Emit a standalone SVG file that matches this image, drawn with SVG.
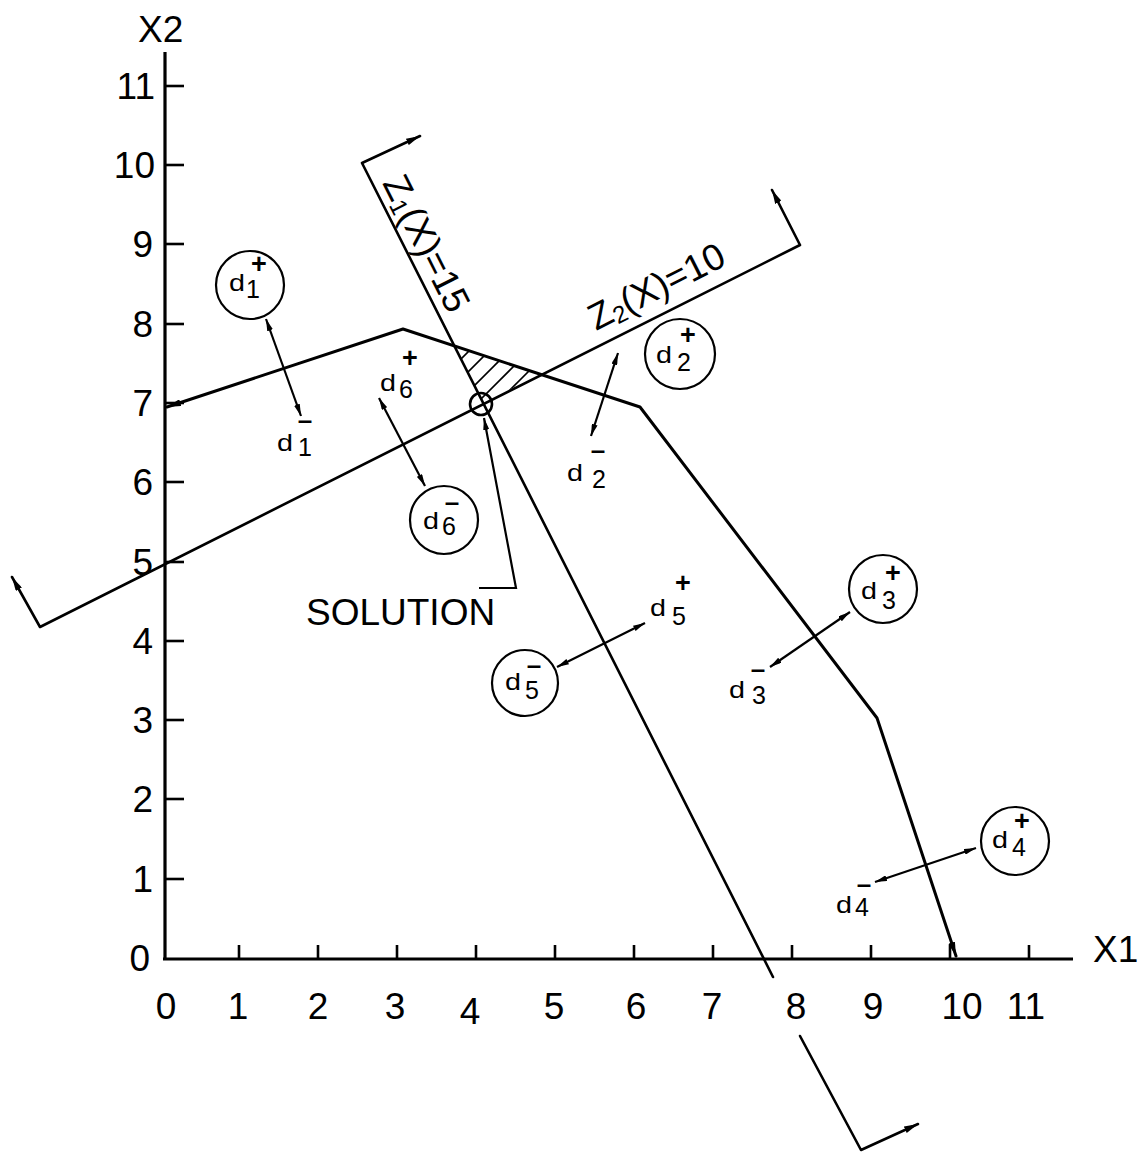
<svg xmlns="http://www.w3.org/2000/svg" width="1142" height="1155" viewBox="0 0 1142 1155">
<style>
.ln{fill:none;stroke:#000;stroke-width:2.6;stroke-linejoin:round;stroke-linecap:round}
.ax{fill:none;stroke:#000;stroke-width:3.2}
.tk{stroke:#000;stroke-width:2.6}
.ar{fill:none;stroke:#000;stroke-width:2.2}
.ht{stroke:#000;stroke-width:1.6}
.cir{fill:#fff;stroke:#000;stroke-width:2.2}
.num{font-family:"Liberation Sans",Arial,sans-serif;font-size:37px;fill:#000}
.lbl{font-family:"Liberation Sans",Arial,sans-serif;font-size:37px;fill:#000}
.d{font-family:"Liberation Sans",Arial,sans-serif;font-size:24px;fill:#000}
.dg{font-family:"Liberation Sans",Arial,sans-serif;font-size:25px;fill:#000}
.pl{font-family:"Liberation Sans",Arial,sans-serif;font-size:27px;font-weight:bold;fill:#000;text-anchor:middle}
.mi{font-family:"Liberation Sans",Arial,sans-serif;font-size:22px;font-weight:bold;fill:#000;text-anchor:middle}
</style>
<defs>
<marker id="ah" viewBox="0 0 12 6" refX="12" refY="3" markerWidth="12" markerHeight="6" orient="auto-start-reverse" markerUnits="userSpaceOnUse"><path d="M0,0 L12,3 L0,6 z" fill="#000"/></marker>
<marker id="ahb" viewBox="0 0 14 7" refX="14" refY="3.5" markerWidth="14" markerHeight="7" orient="auto-start-reverse" markerUnits="userSpaceOnUse"><path d="M0,0 L14,3.5 L0,7 z" fill="#000"/></marker>
<clipPath id="tri"><polygon points="454,346 483,403 541,374"/></clipPath>
</defs>
<rect width="1142" height="1155" fill="#fff"/>

<g id="axes">
<line class="ax" x1="165" y1="52" x2="165" y2="960"/>
<line class="ax" x1="163" y1="959" x2="1073" y2="959"/>
<g class="tk">
<line x1="239" y1="945" x2="239" y2="959"/><line x1="318" y1="945" x2="318" y2="959"/><line x1="397" y1="945" x2="397" y2="959"/><line x1="476" y1="945" x2="476" y2="959"/><line x1="555" y1="945" x2="555" y2="959"/><line x1="634" y1="945" x2="634" y2="959"/><line x1="713" y1="945" x2="713" y2="959"/><line x1="792" y1="945" x2="792" y2="959"/><line x1="871" y1="945" x2="871" y2="959"/><line x1="950" y1="945" x2="950" y2="959"/><line x1="1029" y1="945" x2="1029" y2="959"/>
<line x1="165" y1="879" x2="184" y2="879"/><line x1="165" y1="799" x2="184" y2="799"/><line x1="165" y1="720" x2="184" y2="720"/><line x1="165" y1="641" x2="184" y2="641"/><line x1="165" y1="562" x2="184" y2="562"/><line x1="165" y1="482" x2="184" y2="482"/><line x1="165" y1="403" x2="184" y2="403"/><line x1="165" y1="324" x2="184" y2="324"/><line x1="165" y1="244" x2="184" y2="244"/><line x1="165" y1="165" x2="184" y2="165"/><line x1="165" y1="86" x2="184" y2="86"/>
</g>
<text class="lbl" x="138" y="42">X2</text>
<text class="lbl" x="1093" y="962">X1</text>
<g class="num" text-anchor="end">
<text x="150" y="971">0</text><text x="153" y="892">1</text><text x="153" y="812">2</text><text x="153" y="733">3</text><text x="153" y="654">4</text><text x="153" y="575">5</text><text x="153" y="495">6</text><text x="153" y="416">7</text><text x="153" y="337">8</text><text x="153" y="257">9</text><text x="155" y="178">10</text><text x="155" y="99">11</text>
</g>
<g class="num" text-anchor="middle">
<text x="166" y="1019">0</text><text x="238" y="1019">1</text><text x="318" y="1019">2</text><text x="395" y="1019">3</text><text x="470" y="1024">4</text><text x="554" y="1019">5</text><text x="636" y="1019">6</text><text x="712" y="1019">7</text><text x="796" y="1019">8</text><text x="873" y="1019">9</text><text x="962" y="1019">10</text><text x="1026" y="1019">11</text>
</g>
</g>

<g id="constraint-boundary">
<polyline class="ln" points="956,956 877,718 640,407 403,329 167,407" marker-start="url(#ahb)" marker-end="url(#ahb)" style="stroke-width:3"/>
</g>

<g id="z1-line">
<polyline class="ln" points="420,136 362,163 773,977" marker-start="url(#ahb)"/>
<polyline class="ln" points="800,1036 861,1150 918,1124" marker-end="url(#ahb)"/>
<text class="lbl" transform="translate(382,183) rotate(63.2)">Z<tspan font-size="24" dy="4">1</tspan><tspan dy="-4">(X)=15</tspan></text>
</g>

<g id="z2-line">
<polyline class="ln" points="12,577 40,627 800,245 772,190" marker-start="url(#ahb)" marker-end="url(#ahb)"/>
<text class="lbl" transform="translate(596,331) rotate(-26.75)">Z<tspan font-size="24" dy="4">2</tspan><tspan dy="-4">(X)=10</tspan></text>
</g>

<g id="feasible-hatch" clip-path="url(#tri)">
<line class="ht" x1="380" y1="440" x2="500" y2="320"/>
<line class="ht" x1="400" y1="440" x2="520" y2="320"/>
<line class="ht" x1="420" y1="440" x2="540" y2="320"/>
<line class="ht" x1="440" y1="440" x2="560" y2="320"/>
<line class="ht" x1="460" y1="440" x2="580" y2="320"/>
</g>

<g id="solution">
<circle cx="481" cy="404" r="11" fill="none" stroke="#000" stroke-width="2.6"/>
<text class="lbl" x="306" y="625" font-size="36">SOLUTION</text>
</g>

<g id="connectors">
<polyline class="ar" points="479,588 516,588 484,418" marker-end="url(#ah)"/>
<line class="ar" x1="266" y1="319" x2="301" y2="416" marker-start="url(#ah)" marker-end="url(#ah)"/>
<line class="ar" x1="379" y1="398" x2="425" y2="486" marker-start="url(#ah)" marker-end="url(#ah)"/>
<line class="ar" x1="618" y1="353" x2="591" y2="436" marker-start="url(#ah)" marker-end="url(#ah)"/>
<line class="ar" x1="645" y1="623" x2="557" y2="667" marker-start="url(#ah)" marker-end="url(#ah)"/>
<line class="ar" x1="850" y1="612" x2="770" y2="667" marker-start="url(#ah)" marker-end="url(#ah)"/>
<line class="ar" x1="976" y1="848" x2="875" y2="882" marker-start="url(#ah)" marker-end="url(#ah)"/>
</g>

<g id="d1-plus"><circle class="cir" cx="250" cy="285" r="34"/><text class="d" x="229" y="291" textLength="16" lengthAdjust="spacingAndGlyphs">d</text><text class="dg" x="246" y="298">1</text><text class="pl" x="259" y="273">+</text></g>
<g id="d1-minus"><text class="d" x="277" y="451" textLength="16" lengthAdjust="spacingAndGlyphs">d</text><text class="dg" x="298" y="456">1</text><text class="mi" x="305" y="429" textLength="15" lengthAdjust="spacingAndGlyphs">−</text></g>
<g id="d6-plus"><text class="d" x="380" y="391" textLength="16" lengthAdjust="spacingAndGlyphs">d</text><text class="dg" x="399" y="398">6</text><text class="pl" x="410" y="367">+</text></g>
<g id="d6-minus"><circle class="cir" cx="444" cy="520" r="34"/><text class="d" x="423" y="529" textLength="16" lengthAdjust="spacingAndGlyphs">d</text><text class="dg" x="442" y="535">6</text><text class="mi" x="452" y="511" textLength="15" lengthAdjust="spacingAndGlyphs">−</text></g>
<g id="d2-plus"><circle class="cir" cx="680" cy="354" r="35"/><text class="d" x="656" y="363" textLength="16" lengthAdjust="spacingAndGlyphs">d</text><text class="dg" x="677" y="371">2</text><text class="pl" x="688" y="344">+</text></g>
<g id="d2-minus"><text class="d" x="567" y="481" textLength="16" lengthAdjust="spacingAndGlyphs">d</text><text class="dg" x="592" y="488">2</text><text class="mi" x="598" y="459" textLength="15" lengthAdjust="spacingAndGlyphs">−</text></g>
<g id="d5-plus"><text class="d" x="650" y="616" textLength="16" lengthAdjust="spacingAndGlyphs">d</text><text class="dg" x="672" y="625">5</text><text class="pl" x="683" y="592">+</text></g>
<g id="d5-minus"><circle class="cir" cx="525" cy="683" r="33"/><text class="d" x="505" y="690" textLength="16" lengthAdjust="spacingAndGlyphs">d</text><text class="dg" x="525" y="699">5</text><text class="mi" x="534" y="674" textLength="15" lengthAdjust="spacingAndGlyphs">−</text></g>
<g id="d3-plus"><circle class="cir" cx="883" cy="589" r="34"/><text class="d" x="861" y="599" textLength="16" lengthAdjust="spacingAndGlyphs">d</text><text class="dg" x="882" y="609">3</text><text class="pl" x="893" y="582">+</text></g>
<g id="d3-minus"><text class="d" x="729" y="698" textLength="16" lengthAdjust="spacingAndGlyphs">d</text><text class="dg" x="752" y="704">3</text><text class="mi" x="758" y="678" textLength="15" lengthAdjust="spacingAndGlyphs">−</text></g>
<g id="d4-plus"><circle class="cir" cx="1015" cy="841" r="34"/><text class="d" x="992" y="848" textLength="16" lengthAdjust="spacingAndGlyphs">d</text><text class="dg" x="1012" y="856">4</text><text class="pl" x="1022" y="830">+</text></g>
<g id="d4-minus"><text class="d" x="836" y="913" textLength="16" lengthAdjust="spacingAndGlyphs">d</text><text class="dg" x="855" y="916">4</text><text class="mi" x="864" y="893" textLength="15" lengthAdjust="spacingAndGlyphs">−</text></g>
</svg>
